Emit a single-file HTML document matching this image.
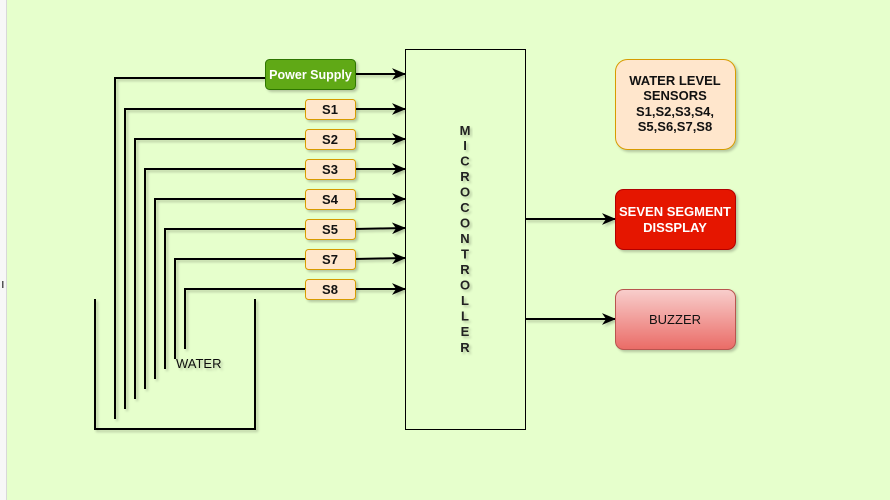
<!DOCTYPE html>
<html><head><meta charset="utf-8"><style>
html,body{margin:0;padding:0;background:#fff;}
svg{display:block;}
text{font-family:"Liberation Sans",Arial,sans-serif;}
</style></head><body>
<svg width="890" height="500" xmlns="http://www.w3.org/2000/svg">
<defs>
<marker id="b" viewBox="0 0 12 10" refX="12" refY="5" markerWidth="14" markerHeight="12" orient="auto" markerUnits="userSpaceOnUse">
<path d="M0,0 L12,5 L0,10 L3.5,5 Z" fill="#000"/>
</marker>
<linearGradient id="bz" x1="0" y1="0" x2="0" y2="1"><stop offset="0" stop-color="#f8cecc"/><stop offset="1" stop-color="#ea6b66"/></linearGradient>
<filter id="sh" x="-10%" y="-10%" width="130%" height="130%"><feDropShadow dx="2" dy="2" stdDeviation="1.2" flood-color="#000" flood-opacity="0.22"/></filter>
</defs>
<rect x="0" y="0" width="6" height="500" fill="#f7f7f7"/>
<rect x="6" y="0" width="1" height="500" fill="#d8d8d8"/>
<rect x="7" y="0" width="883" height="500" fill="#e6ffcc"/>
<rect x="2" y="281" width="1.5" height="7" fill="#555"/>

<g filter="url(#sh)" stroke="#000" stroke-width="2" fill="none">
<polyline points="95,299 95,429 255,429 255,299"/>
<polyline points="115,419 115,78 265,78"/>
<polyline points="125,409 125,109 305,109"/>
<polyline points="135,399 135,139 305,139"/>
<polyline points="145,389 145,169 305,169"/>
<polyline points="155,379 155,199 305,199"/>
<polyline points="165,369 165,229 305,229"/>
<polyline points="175,359 175,259 305,259"/>
<polyline points="185,349 185,289 305,289"/>
<line x1="356" y1="74" x2="406" y2="74" marker-end="url(#b)"/>
<line x1="355" y1="109" x2="406" y2="109" marker-end="url(#b)"/>
<line x1="355" y1="139" x2="406" y2="139" marker-end="url(#b)"/>
<line x1="355" y1="169" x2="406" y2="169" marker-end="url(#b)"/>
<line x1="355" y1="199" x2="406" y2="199" marker-end="url(#b)"/>
<line x1="355" y1="229" x2="406" y2="228" marker-end="url(#b)"/>
<line x1="355" y1="259" x2="406" y2="258" marker-end="url(#b)"/>
<line x1="355" y1="289" x2="406" y2="289" marker-end="url(#b)"/>
<line x1="525" y1="219" x2="616" y2="219" marker-end="url(#b)"/>
<line x1="525" y1="319" x2="616" y2="319" marker-end="url(#b)"/>
</g>

<text x="176" y="368" font-size="13" fill="#111" filter="url(#sh)">WATER</text>

<rect x="405.5" y="49.5" width="120" height="380" fill="#e6ffcc" stroke="#000" stroke-width="1"/>
<g font-size="13" font-weight="bold" fill="#222" text-anchor="middle" filter="url(#sh)">
<text x="465" y="135">M</text><text x="465" y="150">I</text><text x="465" y="165.5">C</text>
<text x="465" y="181">R</text><text x="465" y="196.5">O</text><text x="465" y="212">C</text>
<text x="465" y="227.5">O</text><text x="465" y="243">N</text><text x="465" y="258.5">T</text>
<text x="465" y="274">R</text><text x="465" y="289.5">O</text><text x="465" y="305">L</text>
<text x="465" y="320.5">L</text><text x="465" y="336">E</text><text x="465" y="352">R</text>
</g>

<rect x="265.5" y="59.5" width="90" height="30" rx="4" fill="#60a917" stroke="#2d7600" filter="url(#sh)"/>
<text x="310.5" y="79" font-size="12.5" font-weight="bold" fill="#fff" text-anchor="middle">Power Supply</text>

<g font-size="13" font-weight="bold" fill="#111" text-anchor="middle">
<rect x="305.5" y="99.5" width="50" height="20" rx="3" fill="#ffe6cc" stroke="#d79b00" filter="url(#sh)"/><text x="330" y="114">S1</text>
<rect x="305.5" y="129.5" width="50" height="20" rx="3" fill="#ffe6cc" stroke="#d79b00" filter="url(#sh)"/><text x="330" y="144">S2</text>
<rect x="305.5" y="159.5" width="50" height="20" rx="3" fill="#ffe6cc" stroke="#d79b00" filter="url(#sh)"/><text x="330" y="174">S3</text>
<rect x="305.5" y="189.5" width="50" height="20" rx="3" fill="#ffe6cc" stroke="#d79b00" filter="url(#sh)"/><text x="330" y="204">S4</text>
<rect x="305.5" y="219.5" width="50" height="20" rx="3" fill="#ffe6cc" stroke="#d79b00" filter="url(#sh)"/><text x="330" y="234">S5</text>
<rect x="305.5" y="249.5" width="50" height="20" rx="3" fill="#ffe6cc" stroke="#d79b00" filter="url(#sh)"/><text x="330" y="264">S7</text>
<rect x="305.5" y="279.5" width="50" height="20" rx="3" fill="#ffe6cc" stroke="#d79b00" filter="url(#sh)"/><text x="330" y="294">S8</text>
</g>

<rect x="615.5" y="59.5" width="120" height="90" rx="12" fill="#ffe6cc" stroke="#d79b00" filter="url(#sh)"/>
<g font-size="13" fill="#111" text-anchor="middle" font-weight="bold">
<text x="675" y="85">WATER LEVEL</text>
<text x="675" y="100">SENSORS</text>
<text x="675" y="116">S1,S2,S3,S4,</text>
<text x="675" y="131">S5,S6,S7,S8</text>
</g>

<rect x="615.5" y="189.5" width="120" height="60" rx="8" fill="#e51400" stroke="#b20000" filter="url(#sh)"/>
<text x="675" y="216" font-size="13" font-weight="bold" fill="#fff" text-anchor="middle">SEVEN SEGMENT</text>
<text x="675" y="232" font-size="13" font-weight="bold" fill="#fff" text-anchor="middle">DISSPLAY</text>

<rect x="615.5" y="289.5" width="120" height="60" rx="8" fill="url(#bz)" stroke="#b85450" filter="url(#sh)"/>
<text x="675" y="324" font-size="13" fill="#111" text-anchor="middle">BUZZER</text>
</svg>
</body></html>
